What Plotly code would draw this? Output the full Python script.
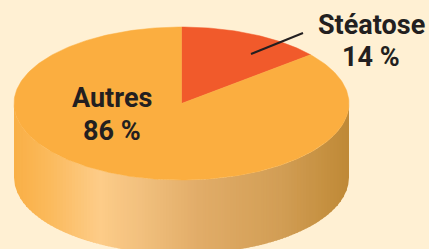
import math
import plotly.graph_objects as go

# ---- data ----
labels = ["Stéatose", "Autres"]
values = [14, 86]
label_text = ["Stéatose", "Autres"]
pct_text = ["14 %", "86 %"]

# ---- style / geometry ----
W, H = 429, 249
BG = "#FFF0D3"
CX, CY, RX, RY, DEPTH = 181.5, 103.5, 167.5, 76.5, 74
slice_colors = ["#F15A2B", "#FBAE40"]
side_stops = [(14, (249, 175, 69)), (50, (251, 186, 92)), (100, (253, 204, 136)),
              (140, (242, 192, 126)), (200, (225, 172, 104)), (280, (210, 158, 85)),
              (349, (191, 137, 54))]
TXT = "#231F20"
FONT = "Roboto"


def pt(theta_deg, r=1.0):
    t = math.radians(theta_deg)
    return CX + RX * r * math.cos(t), CY - RY * r * math.sin(t)


def ytop(x):
    u = max(-1.0, min(1.0, (x - CX) / RX))
    return CY + RY * math.sqrt(1 - u * u)


def side_color(x):
    for (x0, c0), (x1, c1) in zip(side_stops[:-1], side_stops[1:]):
        if x0 <= x <= x1:
            f = (x - x0) / (x1 - x0)
            c = [round(a + (b - a) * f) for a, b in zip(c0, c1)]
            return "rgb(%d,%d,%d)" % tuple(c)
    c = side_stops[0][1] if x < side_stops[0][0] else side_stops[-1][1]
    return "rgb(%d,%d,%d)" % c


fig = go.Figure()

# side (front wall) as gradient strips
N = 110
x_left, x_right = CX - RX, CX + RX
step = (x_right - x_left) / N
for i in range(N):
    x0 = x_left + i * step
    x1 = min(x_right, x0 + step + 0.8)
    xs = [x0 + (x1 - x0) * k / 4 for k in range(5)]
    top = [ytop(x) for x in xs]
    bot = [y + DEPTH for y in top]
    px = xs + xs[::-1] + [xs[0]]
    py = top + bot[::-1] + [top[0]]
    col = side_color((x0 + x1) / 2)
    fig.add_trace(go.Scatter(x=px, y=py, mode="lines", fill="toself", fillcolor=col,
                             line=dict(width=0, color=col), hoverinfo="skip", showlegend=False))

# top slices
total = sum(values)
start = 90.0
for lab, v, col in zip(labels, values, slice_colors):
    span = 360.0 * v / total
    n = max(8, int(span))
    xs, ys = [CX], [CY]
    for k in range(n + 1):
        x, y = pt(start - span * k / n)
        xs.append(x)
        ys.append(y)
    xs.append(CX)
    ys.append(CY)
    fig.add_trace(go.Scatter(x=xs, y=ys, mode="lines", fill="toself", fillcolor=col,
                             line=dict(width=0.5, color=col), name=lab, hoverinfo="skip",
                             showlegend=False))
    start -= span

# leader line for Stéatose
fig.add_shape(type="line", x0=251, y0=54, x1=303, y1=33, xref="x", yref="y",
              line=dict(color=TXT, width=2))

# labels
label_pos = [(371, 25, 57), (112, 98, 131)]
for lt, pc, (lx, ly1, ly2) in zip(label_text, pct_text, label_pos):
    fig.add_annotation(x=lx, y=ly1, text="<b>%s</b>" % lt, showarrow=False,
                       font=dict(family=FONT, size=27, color=TXT), xref="x", yref="y")
    fig.add_annotation(x=lx, y=ly2, text="<b>%s</b>" % pc, showarrow=False,
                       font=dict(family=FONT, size=27, color=TXT), xref="x", yref="y")

fig.update_layout(
    width=W, height=H, margin=dict(l=0, r=0, t=0, b=0),
    paper_bgcolor=BG, plot_bgcolor=BG,
    xaxis=dict(range=[0, W], visible=False, fixedrange=True),
    yaxis=dict(range=[H, 0], visible=False, fixedrange=True),
)
fig.write_html("out.html", config={"displayModeBar": False},
               post_script="document.body.style.margin='0';document.body.style.background='%s';" % BG)
